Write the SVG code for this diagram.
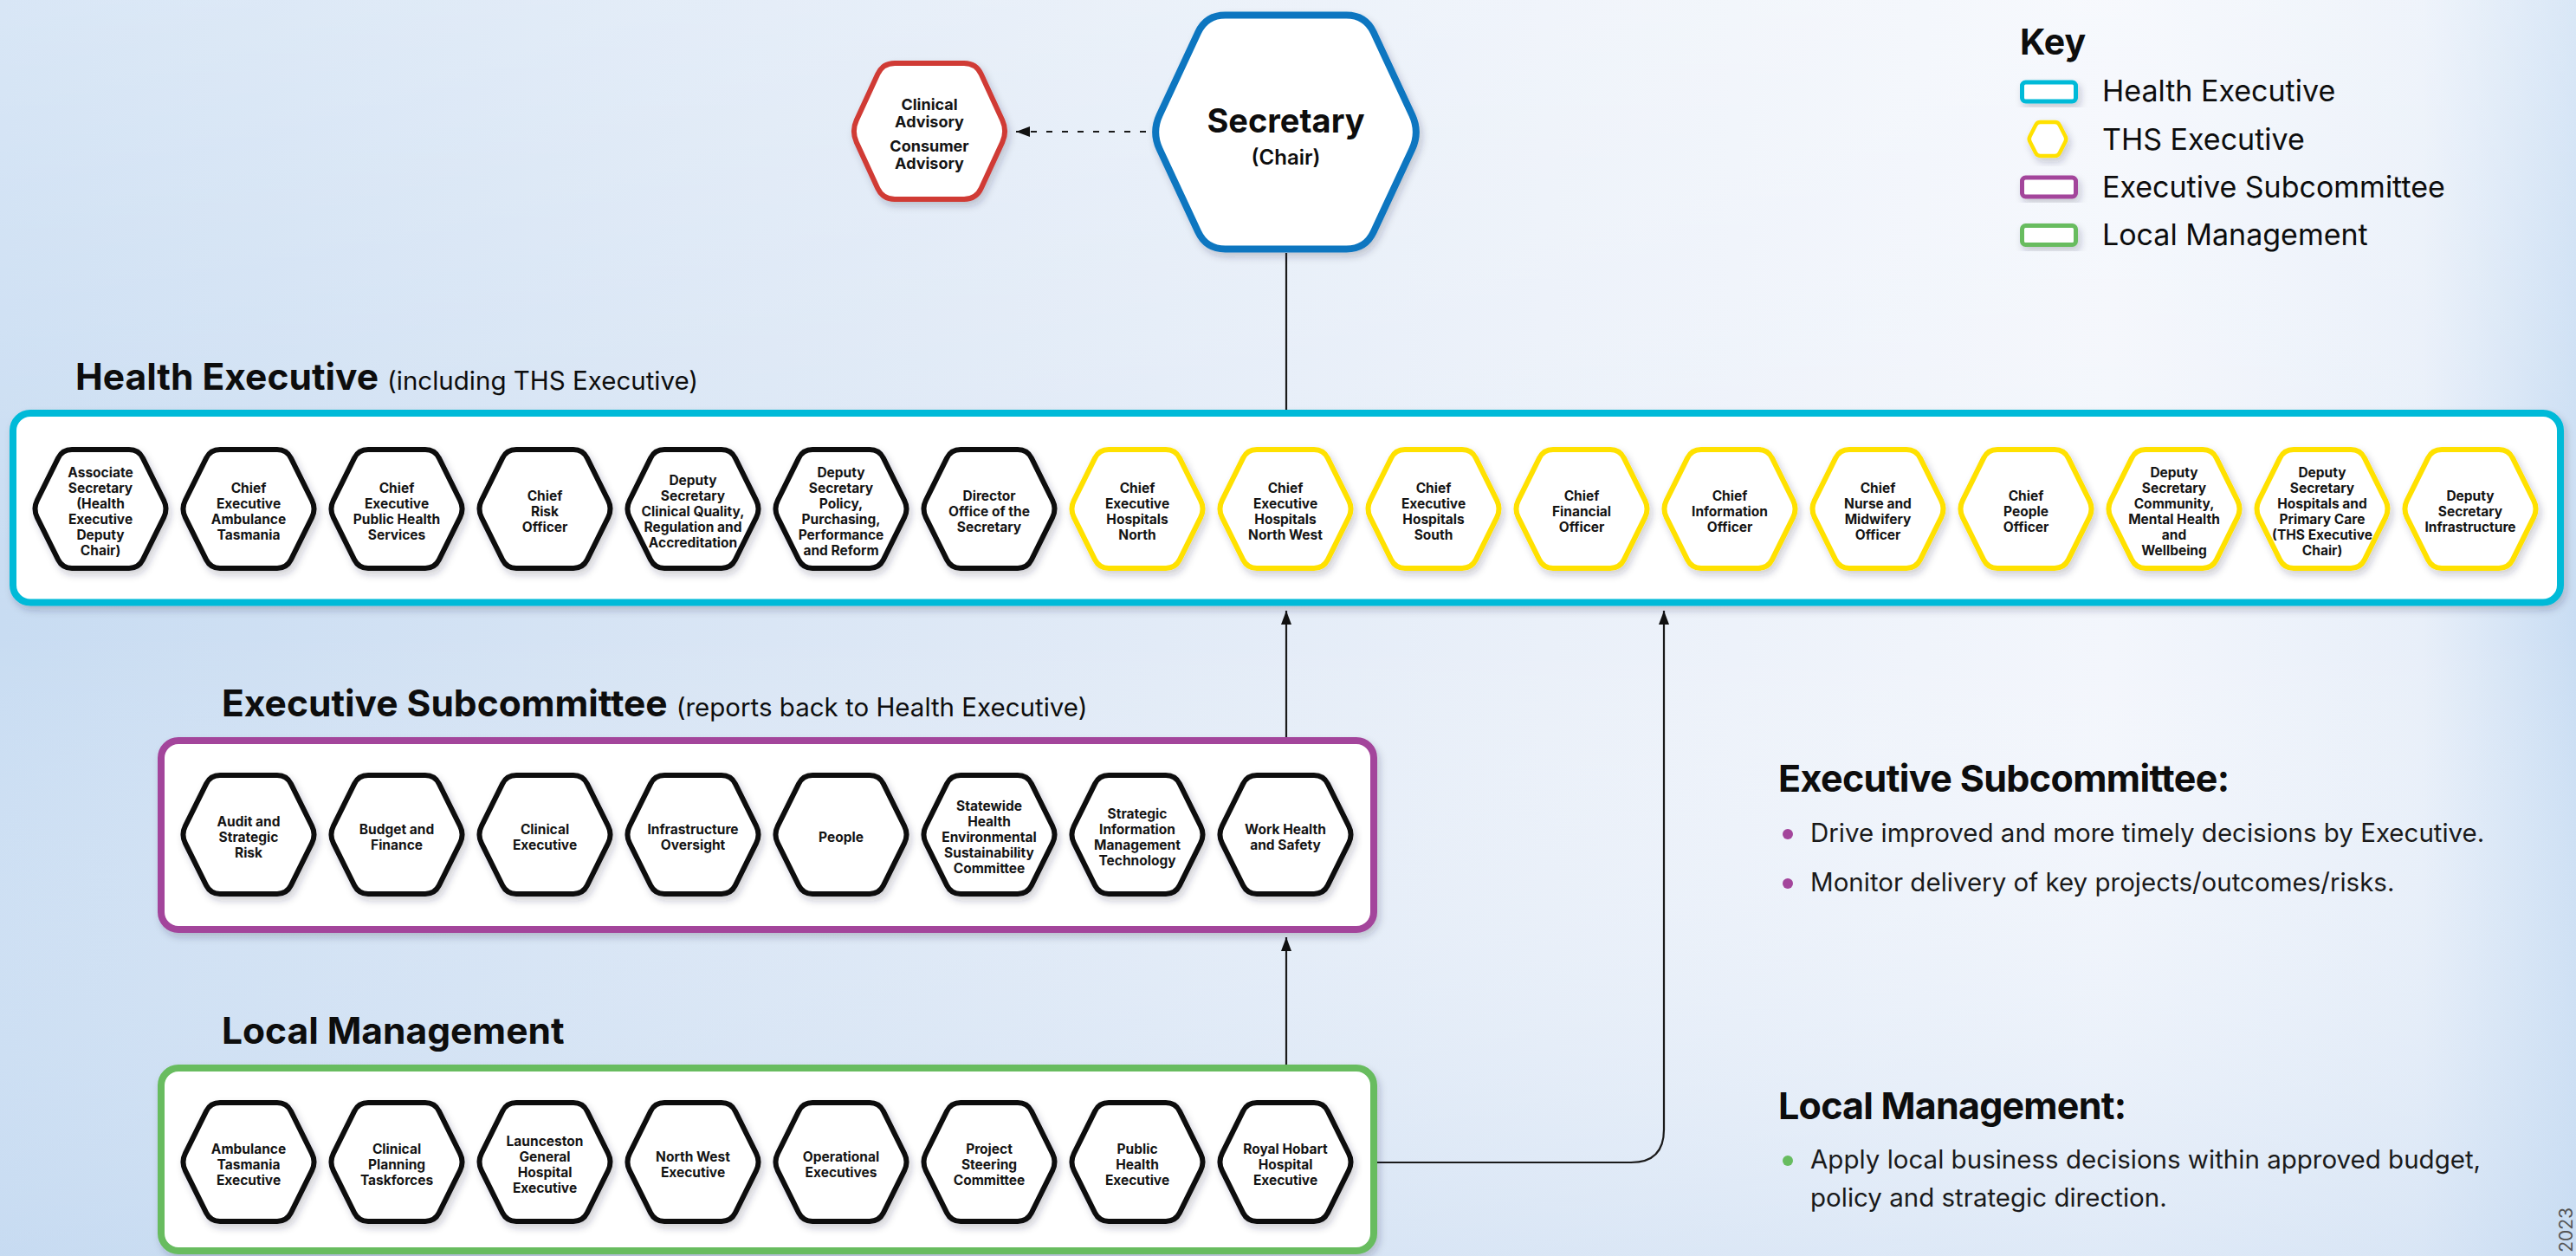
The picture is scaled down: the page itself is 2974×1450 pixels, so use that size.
<svg xmlns="http://www.w3.org/2000/svg" xmlns:xlink="http://www.w3.org/1999/xlink" width="2974" height="1450" viewBox="0 0 2974 1450">
<defs>
<linearGradient id="bg" x1="0" y1="0" x2="1" y2="0">
<stop offset="0" stop-color="#c8dcf2"/>
<stop offset="0.3" stop-color="#dae6f5"/>
<stop offset="0.6" stop-color="#eaf0f9"/>
<stop offset="0.82" stop-color="#f3f6fc"/>
<stop offset="0.94" stop-color="#e8eff9"/>
<stop offset="1" stop-color="#c9ddf3"/>
</linearGradient>
<linearGradient id="bgv" x1="0" y1="0" x2="0" y2="1">
<stop offset="0" stop-color="#ffffff" stop-opacity="0.3"/>
<stop offset="0.5" stop-color="#ffffff" stop-opacity="0"/>
<stop offset="1" stop-color="#c6daf1" stop-opacity="0.45"/>
</linearGradient>
<filter id="sh" x="-20%" y="-20%" width="150%" height="150%">
<feDropShadow dx="3" dy="5" stdDeviation="4" flood-color="#1a2a40" flood-opacity="0.22"/>
</filter>
<path id="hex" d="M-73.1,-9.8 L-48.9,-58.7 Q-44,-68.5 -33,-68.5 L33,-68.5 Q44,-68.5 48.9,-58.7 L73.1,-9.8 Q78,0 73.1,9.8 L48.9,58.7 Q44,68.5 33,68.5 L-33,68.5 Q-44,68.5 -48.9,58.7 L-73.1,9.8 Q-78,0 -73.1,-9.8 Z"/>
<path id="hexkey" d="M-20.5,-3 L-13.7,-16.3 Q-12,-19.5 -8.5,-19.5 L8.5,-19.5 Q12,-19.5 13.7,-16.3 L20.5,-3 Q22,0 20.5,3 L13.7,16.3 Q12,19.5 8.5,19.5 L-8.5,19.5 Q-12,19.5 -13.7,16.3 L-20.5,3 Q-22,0 -20.5,-3 Z"/>
<marker id="arr" viewBox="0 0 16 12" refX="16" refY="6" markerWidth="16" markerHeight="12" markerUnits="userSpaceOnUse" orient="auto">
<path d="M0,0 L16,6 L0,12 Z" fill="#111"/>
</marker>
<style>
.hx{fill:#fff;stroke-width:6;stroke-linejoin:round;filter:url(#sh)}
.blk{stroke:#0d0d0d}
.ylw{stroke:#ffe100}
.lbl{font-family:Inter,"Liberation Sans",sans-serif;font-weight:700;font-size:15.5px;fill:#141414;text-anchor:middle}
.box{fill:#fff;stroke-width:8;filter:url(#sh)}
.ttl{font-family:Inter,"Liberation Sans",sans-serif;font-weight:700;font-size:42.5px;fill:#0d0d0d}
.rh{font-family:Inter,"Liberation Sans",sans-serif;font-weight:700;font-size:43px;fill:#0d0d0d}
.sub{font-family:Inter,"Liberation Sans",sans-serif;font-weight:400;font-size:29.5px;fill:#0d0d0d}
.key{font-family:Inter,"Liberation Sans",sans-serif;font-weight:400;font-size:34px;fill:#0d0d0d}
.body{font-family:Inter,"Liberation Sans",sans-serif;font-weight:400;font-size:29.5px;fill:#1a1a1a}
.con{fill:none;stroke:#1a1a1a;stroke-width:2.2}
</style>
</defs>

<rect x="0" y="0" width="2974" height="1450" fill="url(#bg)"/>
<rect x="0" y="0" width="2974" height="1450" fill="url(#bgv)"/>

<!-- Connectors -->
<g id="connectors">
<path class="con" d="M1323,152 H1173" stroke-dasharray="7 11" marker-end="url(#arr)"/>
<path class="con" d="M1485,292 V473"/>
<path class="con" d="M1485,851 V705" marker-end="url(#arr)"/>
<path class="con" d="M1485,1229 V1082" marker-end="url(#arr)"/>
<path class="con" d="M1590,1342 H1883 Q1921,1342 1921,1304 V705" marker-end="url(#arr)"/>
</g>

<!-- Top nodes -->
<g id="secretary">
<path d="M1338.8,132.6 L1383.2,37.4 Q1392.5,17.5 1414.5,17.5 L1554.5,17.5 Q1576.5,17.5 1585.8,37.4 L1630.2,132.6 Q1639.5,152.5 1630.2,172.4 L1585.8,267.6 Q1576.5,287.5 1554.5,287.5 L1414.5,287.5 Q1392.5,287.5 1383.2,267.6 L1338.8,172.4 Q1329.5,152.5 1338.8,132.6 Z" fill="#fff" stroke="#0a76c0" stroke-width="8" filter="url(#sh)"/>
<text x="1484.5" y="153" font-family="Inter,'Liberation Sans',sans-serif" font-weight="700" font-size="38" fill="#0d0d0d" text-anchor="middle">Secretary</text>
<text x="1484.5" y="190" font-family="Inter,'Liberation Sans',sans-serif" font-weight="600" font-size="24" fill="#0d0d0d" text-anchor="middle">(Chair)</text>
</g>

<g id="clinical-advisory" transform="translate(1073,151.5)">
<path d="M-84.2,-12.7 L-59.8,-65.8 Q-54,-78.5 -40,-78.5 L40,-78.5 Q54,-78.5 59.8,-65.8 L84.2,-12.7 Q90,0 84.2,12.7 L59.8,65.8 Q54,78.5 40,78.5 L-40,78.5 Q-54,78.5 -59.8,65.8 L-84.2,12.7 Q-90,0 -84.2,-12.7 Z" fill="#fff" stroke="#d03b35" stroke-width="6" filter="url(#sh)"/>
<text class="lbl" style="font-size:18px"><tspan x="0" y="-24.5">Clinical</tspan><tspan x="0" y="-4.5">Advisory</tspan><tspan x="0" y="23.5">Consumer</tspan><tspan x="0" y="43.5">Advisory</tspan></text>
</g>

<!-- Key -->
<g id="key">
<text x="2332" y="63" class="ttl" style="font-size:41px">Key</text>
<rect x="2334.5" y="95" width="62" height="22" rx="4" fill="#fff" stroke="#00bad8" stroke-width="5" filter="url(#sh)"/>
<text x="2427" y="117" class="key">Health Executive</text>
<use xlink:href="#hexkey" href="#hexkey" transform="translate(2364,160.5)" fill="#fff" stroke="#ffe100" stroke-width="4.5" filter="url(#sh)"/>
<text x="2427" y="173" class="key">THS Executive</text>
<rect x="2334.5" y="205" width="62" height="22" rx="4" fill="#fff" stroke="#a3459b" stroke-width="5" filter="url(#sh)"/>
<text x="2427" y="228" class="key">Executive Subcommittee</text>
<rect x="2334.5" y="260.5" width="62" height="22" rx="4" fill="#fff" stroke="#67bc5f" stroke-width="5" filter="url(#sh)"/>
<text x="2427" y="283" class="key">Local Management</text>
</g>

<!-- Health Executive -->
<g id="health-executive">
<text x="87" y="450" class="ttl">Health Executive<tspan class="sub" dx="10">(including THS Executive)</tspan></text>
<rect x="15" y="477" width="2941" height="218.5" rx="20" class="box" stroke="#00bad8"/>
</g>

<g id="he-associate-secretary" transform="translate(116,587.5)"><use href="#hex" xlink:href="#hex" class="hx blk"/><text class="lbl"><tspan x="0" y="-37">Associate</tspan><tspan x="0" y="-19">Secretary</tspan><tspan x="0" y="-1">(Health</tspan><tspan x="0" y="17">Executive</tspan><tspan x="0" y="35">Deputy</tspan><tspan x="0" y="53">Chair)</tspan></text></g>
<g id="he-ce-ambulance" transform="translate(287,587.5)"><use href="#hex" xlink:href="#hex" class="hx blk"/><text class="lbl"><tspan x="0" y="-19">Chief</tspan><tspan x="0" y="-1">Executive</tspan><tspan x="0" y="17">Ambulance</tspan><tspan x="0" y="35">Tasmania</tspan></text></g>
<g id="he-ce-public-health" transform="translate(458,587.5)"><use href="#hex" xlink:href="#hex" class="hx blk"/><text class="lbl"><tspan x="0" y="-19">Chief</tspan><tspan x="0" y="-1">Executive</tspan><tspan x="0" y="17">Public Health</tspan><tspan x="0" y="35">Services</tspan></text></g>
<g id="he-chief-risk" transform="translate(629,587.5)"><use href="#hex" xlink:href="#hex" class="hx blk"/><text class="lbl"><tspan x="0" y="-10">Chief</tspan><tspan x="0" y="8">Risk</tspan><tspan x="0" y="26">Officer</tspan></text></g>
<g id="he-ds-clinical-quality" transform="translate(800,587.5)"><use href="#hex" xlink:href="#hex" class="hx blk"/><text class="lbl"><tspan x="0" y="-28">Deputy</tspan><tspan x="0" y="-10">Secretary</tspan><tspan x="0" y="8">Clinical Quality,</tspan><tspan x="0" y="26">Regulation and</tspan><tspan x="0" y="44">Accreditation</tspan></text></g>
<g id="he-ds-policy" transform="translate(971,587.5)"><use href="#hex" xlink:href="#hex" class="hx blk"/><text class="lbl"><tspan x="0" y="-37">Deputy</tspan><tspan x="0" y="-19">Secretary</tspan><tspan x="0" y="-1">Policy,</tspan><tspan x="0" y="17">Purchasing,</tspan><tspan x="0" y="35">Performance</tspan><tspan x="0" y="53">and Reform</tspan></text></g>
<g id="he-director-office" transform="translate(1142,587.5)"><use href="#hex" xlink:href="#hex" class="hx blk"/><text class="lbl"><tspan x="0" y="-10">Director</tspan><tspan x="0" y="8">Office of the</tspan><tspan x="0" y="26">Secretary</tspan></text></g>
<g id="he-ce-hospitals-north" transform="translate(1313,587.5)"><use href="#hex" xlink:href="#hex" class="hx ylw"/><text class="lbl"><tspan x="0" y="-19">Chief</tspan><tspan x="0" y="-1">Executive</tspan><tspan x="0" y="17">Hospitals</tspan><tspan x="0" y="35">North</tspan></text></g>
<g id="he-ce-hospitals-north-west" transform="translate(1484,587.5)"><use href="#hex" xlink:href="#hex" class="hx ylw"/><text class="lbl"><tspan x="0" y="-19">Chief</tspan><tspan x="0" y="-1">Executive</tspan><tspan x="0" y="17">Hospitals</tspan><tspan x="0" y="35">North West</tspan></text></g>
<g id="he-ce-hospitals-south" transform="translate(1655,587.5)"><use href="#hex" xlink:href="#hex" class="hx ylw"/><text class="lbl"><tspan x="0" y="-19">Chief</tspan><tspan x="0" y="-1">Executive</tspan><tspan x="0" y="17">Hospitals</tspan><tspan x="0" y="35">South</tspan></text></g>
<g id="he-cfo" transform="translate(1826,587.5)"><use href="#hex" xlink:href="#hex" class="hx ylw"/><text class="lbl"><tspan x="0" y="-10">Chief</tspan><tspan x="0" y="8">Financial</tspan><tspan x="0" y="26">Officer</tspan></text></g>
<g id="he-cio" transform="translate(1997,587.5)"><use href="#hex" xlink:href="#hex" class="hx ylw"/><text class="lbl"><tspan x="0" y="-10">Chief</tspan><tspan x="0" y="8">Information</tspan><tspan x="0" y="26">Officer</tspan></text></g>
<g id="he-chief-nurse" transform="translate(2168,587.5)"><use href="#hex" xlink:href="#hex" class="hx ylw"/><text class="lbl"><tspan x="0" y="-19">Chief</tspan><tspan x="0" y="-1">Nurse and</tspan><tspan x="0" y="17">Midwifery</tspan><tspan x="0" y="35">Officer</tspan></text></g>
<g id="he-chief-people" transform="translate(2339,587.5)"><use href="#hex" xlink:href="#hex" class="hx ylw"/><text class="lbl"><tspan x="0" y="-10">Chief</tspan><tspan x="0" y="8">People</tspan><tspan x="0" y="26">Officer</tspan></text></g>
<g id="he-ds-community" transform="translate(2510,587.5)"><use href="#hex" xlink:href="#hex" class="hx ylw"/><text class="lbl"><tspan x="0" y="-37">Deputy</tspan><tspan x="0" y="-19">Secretary</tspan><tspan x="0" y="-1">Community,</tspan><tspan x="0" y="17">Mental Health</tspan><tspan x="0" y="35">and</tspan><tspan x="0" y="53">Wellbeing</tspan></text></g>
<g id="he-ds-hospitals-primary" transform="translate(2681,587.5)"><use href="#hex" xlink:href="#hex" class="hx ylw"/><text class="lbl"><tspan x="0" y="-37">Deputy</tspan><tspan x="0" y="-19">Secretary</tspan><tspan x="0" y="-1">Hospitals and</tspan><tspan x="0" y="17">Primary Care</tspan><tspan x="0" y="35">(THS Executive</tspan><tspan x="0" y="53">Chair)</tspan></text></g>
<g id="he-ds-infrastructure" transform="translate(2852,587.5)"><use href="#hex" xlink:href="#hex" class="hx ylw"/><text class="lbl"><tspan x="0" y="-10">Deputy</tspan><tspan x="0" y="8">Secretary</tspan><tspan x="0" y="26">Infrastructure</tspan></text></g>

<!-- Executive Subcommittee -->
<g id="executive-subcommittee">
<text x="256" y="827" class="ttl">Executive Subcommittee<tspan class="sub" dx="10">(reports back to Health Executive)</tspan></text>
<rect x="186" y="855" width="1400" height="218" rx="20" class="box" stroke="#a3459b"/>
</g>
<g id="es-audit" transform="translate(287,963.5)"><use href="#hex" xlink:href="#hex" class="hx blk"/><text class="lbl"><tspan x="0" y="-10">Audit and</tspan><tspan x="0" y="8">Strategic</tspan><tspan x="0" y="26">Risk</tspan></text></g>
<g id="es-budget" transform="translate(458,963.5)"><use href="#hex" xlink:href="#hex" class="hx blk"/><text class="lbl"><tspan x="0" y="-1">Budget and</tspan><tspan x="0" y="17">Finance</tspan></text></g>
<g id="es-clinical" transform="translate(629,963.5)"><use href="#hex" xlink:href="#hex" class="hx blk"/><text class="lbl"><tspan x="0" y="-1">Clinical</tspan><tspan x="0" y="17">Executive</tspan></text></g>
<g id="es-infrastructure" transform="translate(800,963.5)"><use href="#hex" xlink:href="#hex" class="hx blk"/><text class="lbl"><tspan x="0" y="-1">Infrastructure</tspan><tspan x="0" y="17">Oversight</tspan></text></g>
<g id="es-people" transform="translate(971,963.5)"><use href="#hex" xlink:href="#hex" class="hx blk"/><text class="lbl"><tspan x="0" y="8">People</tspan></text></g>
<g id="es-sustainability" transform="translate(1142,963.5)"><use href="#hex" xlink:href="#hex" class="hx blk"/><text class="lbl"><tspan x="0" y="-28">Statewide</tspan><tspan x="0" y="-10">Health</tspan><tspan x="0" y="8">Environmental</tspan><tspan x="0" y="26">Sustainability</tspan><tspan x="0" y="44">Committee</tspan></text></g>
<g id="es-information" transform="translate(1313,963.5)"><use href="#hex" xlink:href="#hex" class="hx blk"/><text class="lbl"><tspan x="0" y="-19">Strategic</tspan><tspan x="0" y="-1">Information</tspan><tspan x="0" y="17">Management</tspan><tspan x="0" y="35">Technology</tspan></text></g>
<g id="es-whs" transform="translate(1484,963.5)"><use href="#hex" xlink:href="#hex" class="hx blk"/><text class="lbl"><tspan x="0" y="-1">Work Health</tspan><tspan x="0" y="17">and Safety</tspan></text></g>

<!-- Local Management -->
<g id="local-management">
<text x="256" y="1205" class="ttl">Local Management</text>
<rect x="186" y="1233" width="1400" height="211" rx="20" class="box" stroke="#67bc5f"/>
</g>
<g id="lm-ambulance" transform="translate(287,1341.5)"><use href="#hex" xlink:href="#hex" class="hx blk"/><text class="lbl"><tspan x="0" y="-10">Ambulance</tspan><tspan x="0" y="8">Tasmania</tspan><tspan x="0" y="26">Executive</tspan></text></g>
<g id="lm-clinical-planning" transform="translate(458,1341.5)"><use href="#hex" xlink:href="#hex" class="hx blk"/><text class="lbl"><tspan x="0" y="-10">Clinical</tspan><tspan x="0" y="8">Planning</tspan><tspan x="0" y="26">Taskforces</tspan></text></g>
<g id="lm-launceston" transform="translate(629,1341.5)"><use href="#hex" xlink:href="#hex" class="hx blk"/><text class="lbl"><tspan x="0" y="-19">Launceston</tspan><tspan x="0" y="-1">General</tspan><tspan x="0" y="17">Hospital</tspan><tspan x="0" y="35">Executive</tspan></text></g>
<g id="lm-north-west" transform="translate(800,1341.5)"><use href="#hex" xlink:href="#hex" class="hx blk"/><text class="lbl"><tspan x="0" y="-1">North West</tspan><tspan x="0" y="17">Executive</tspan></text></g>
<g id="lm-operational" transform="translate(971,1341.5)"><use href="#hex" xlink:href="#hex" class="hx blk"/><text class="lbl"><tspan x="0" y="-1">Operational</tspan><tspan x="0" y="17">Executives</tspan></text></g>
<g id="lm-project-steering" transform="translate(1142,1341.5)"><use href="#hex" xlink:href="#hex" class="hx blk"/><text class="lbl"><tspan x="0" y="-10">Project</tspan><tspan x="0" y="8">Steering</tspan><tspan x="0" y="26">Committee</tspan></text></g>
<g id="lm-public-health" transform="translate(1313,1341.5)"><use href="#hex" xlink:href="#hex" class="hx blk"/><text class="lbl"><tspan x="0" y="-10">Public</tspan><tspan x="0" y="8">Health</tspan><tspan x="0" y="26">Executive</tspan></text></g>
<g id="lm-royal-hobart" transform="translate(1484,1341.5)"><use href="#hex" xlink:href="#hex" class="hx blk"/><text class="lbl"><tspan x="0" y="-10">Royal Hobart</tspan><tspan x="0" y="8">Hospital</tspan><tspan x="0" y="26">Executive</tspan></text></g>

<!-- Right side notes -->
<g id="notes">
<text x="2053" y="914" class="rh" textLength="521" lengthAdjust="spacing">Executive Subcommittee:</text>
<circle cx="2064" cy="963" r="6" fill="#a3459b"/>
<text x="2090" y="972" class="body">Drive improved and more timely decisions by Executive.</text>
<circle cx="2064" cy="1020" r="6" fill="#a3459b"/>
<text x="2090" y="1029" class="body">Monitor delivery of key projects/outcomes/risks.</text>
<text x="2053" y="1292" class="rh" textLength="402" lengthAdjust="spacing">Local Management:</text>
<circle cx="2064" cy="1340" r="6" fill="#67bc5f"/>
<text x="2090" y="1349" class="body">Apply local business decisions within approved budget,</text>
<text x="2090" y="1393" class="body">policy and strategic direction.</text>
<text transform="translate(2970,1394) rotate(-90)" font-family="Inter,'Liberation Sans',sans-serif" font-size="21" fill="#555" text-anchor="end">2023</text>
</g>
</svg>
